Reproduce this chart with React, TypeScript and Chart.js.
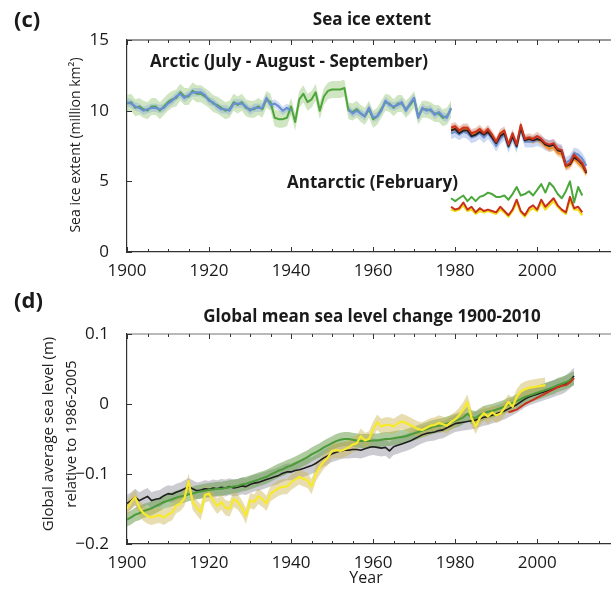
import React, { useEffect, useRef } from "react";
import { Chart, registerables } from "chart.js";
Chart.register(...registerables);

const FONT = "'Open Sans', 'Noto Sans', 'DejaVu Sans', sans-serif";
const W = 611;
const HC = 290;
const HD = 300;

const X_MIN = 1900;
const X_MAX = 2018;
const X_TICKS = [1900, 1920, 1940, 1960, 1980, 2000];
const C_Y_TICKS = [0, 5, 10, 15];
const D_Y_TICKS = [-0.2, -0.1, 0, 0.1];

// ---------- Panel (c): sea ice extent (million km²) ----------
const ARCTIC_START = 1900;
const ARCTIC_BLUE = [
  10.6, 10.5, 10.3, 10.2, 10.0, 10.1, 10.2, 10.2, 10.1, 10.2,
  10.5, 10.7, 11.0, 11.2, 10.9, 11.1, 11.3, 11.3, 11.3, 11.1,
  10.7, 10.6, 10.3, 10.1, 10.1, 10.0, 10.5, 10.5, 10.5, 10.3,
  10.0, 10.2, 10.2, 10.2, 10.9, 10.4, 10.5, 10.3, 10.0, 10.2,
  10.0, null, null, null, null, null, null, null, null, null,
  null, null, null, null, 10.1, 9.8, 10.0, 9.8, 9.6, 10.2,
  9.5, 9.6, 10.0, 10.7, 10.4, 10.3, 10.4, 10.6, 10.0, 10.5,
  10.9, 9.5, 10.2, 10.0, 10.1, 9.7, 9.9, 9.6, 9.5, 10.2,
];
const ARCTIC_GREEN = [
  10.5, 10.6, 10.2, 10.3, 10.1, 10.0, 10.3, 10.3, 10.0, 10.3,
  10.6, 10.8, 10.9, 11.3, 11.0, 11.0, 11.4, 11.2, 11.2, 11.0,
  10.8, 10.5, 10.4, 10.2, 10.0, 10.1, 10.6, 10.4, 10.6, 10.2,
  10.1, 10.1, 10.3, 10.1, 10.8, 10.6, 9.5, 9.4, 9.4, 9.5,
  10.3, 9.2, 10.8, 11.2, 10.6, 10.8, 11.3, 10.0, 11.0, 11.4,
  11.5, 11.5, 11.5, 11.6, 10.0, 9.9, 10.1, 9.8, 9.6, 10.1,
  9.4, 9.6, 10.1, 10.6, 10.5, 10.2, 10.5, 10.5, 10.1, 10.4,
  10.8, 9.6, 10.1, 10.1, 10.0, 9.8, 9.8, 9.5, 9.6, 10.1,
];
const SAT_START = 1979;
const ARCTIC_SAT_BLUE = [
  8.4, 8.5, 8.3, 8.5, 8.4, 8.1, 8.2, 8.4, 8.1, 8.4,
  8.0, 7.5, 8.0, 8.3, 7.4, 8.1, 7.4, 8.7, 7.8, 7.8,
  7.8, 7.9, 7.8, 7.6, 7.5, 7.6, 7.3, 7.2, 6.3, 6.5,
  7.0, 6.9, 6.6, 6.1,
];
const ARCTIC_SAT_BLACK = [
  8.6, 8.7, 8.4, 8.6, 8.6, 8.2, 8.3, 8.5, 8.3, 8.5,
  8.1, 7.7, 8.2, 8.4, 7.5, 8.2, 7.5, 8.8, 7.9, 8.0,
  7.9, 8.0, 7.9, 7.6, 7.5, 7.6, 7.2, 7.1, 6.1, 6.2,
  6.7, 6.5, 6.2, 5.6,
];
const ARCTIC_SAT_ORANGE = [
  8.7, 8.8, 8.5, 8.7, 8.7, 8.3, 8.4, 8.6, 8.4, 8.6,
  8.2, 7.8, 8.3, 8.5, 7.6, 8.3, 7.6, 8.9, 8.0, 8.0,
  7.9, 8.0, 7.8, 7.5, 7.3, 7.4, 7.0, 6.9, 6.0, 6.1,
  6.6, 6.3, 6.0, 5.5,
];
const ARCTIC_SAT_RED = [
  8.8, 8.9, 8.6, 8.8, 8.8, 8.4, 8.5, 8.7, 8.4, 8.7,
  8.3, 7.8, 8.4, 8.6, 7.6, 8.4, 7.6, 9.0, 8.0, 8.1,
  8.0, 8.2, 8.0, 7.7, 7.6, 7.7, 7.3, 7.2, 6.1, 6.3,
  6.9, 6.6, 6.3, 5.7,
];
const ANT_START = 1979;
const ANT_GREEN = [
  3.8, 3.6, 3.8, 4.0, 3.6, 3.9, 3.6, 3.9, 4.0, 4.2,
  4.1, 3.9, 3.9, 4.0, 3.7, 4.1, 4.6, 4.0, 4.1, 4.3,
  4.0, 4.4, 4.8, 4.2, 4.9, 4.6, 4.1, 3.8, 4.3, 5.0,
  3.5, 4.6, 4.0,
];
const ANT_RED = [
  3.2, 3.0, 3.1, 3.5, 3.0, 3.2, 2.8, 3.1, 2.9, 3.0,
  2.9, 2.8, 3.2, 2.9, 2.6, 3.0, 3.7, 2.9, 2.6, 3.1,
  3.3, 3.0, 3.7, 3.2, 3.5, 3.8, 3.3, 3.0, 2.8, 3.9,
  3.1, 3.2, 2.8,
];
const ANT_YELLOW = [
  3.0, 2.9, 3.0, 3.3, 2.9, 3.0, 2.7, 2.9, 2.8, 2.9,
  2.8, 2.7, 3.0, 2.8, 2.5, 2.9, 3.5, 2.8, 2.5, 2.9,
  3.1, 2.9, 3.5, 3.0, 3.3, 3.6, 3.2, 2.9, 2.7, 3.7,
  3.0, 3.0, 2.6,
];
const ARCTIC_GREEN_UNC = 0.6;
const ARCTIC_BLUE_UNC = 0.3;
const SAT_BLUE_UNC = 0.4;
const SAT_RED_UNC = 0.3;
const SAT_ORANGE_UNC = 0.25;

// ---------- Panel (d): global mean sea level (m) ----------
const SL_START = 1900;
const SL_BLACK = [
  -0.142, -0.138, -0.133, -0.138, -0.135, -0.132, -0.138, -0.136, -0.135, -0.131,
  -0.128, -0.129, -0.126, -0.124, -0.121, -0.118, -0.121, -0.124, -0.123, -0.121,
  -0.122, -0.120, -0.121, -0.119, -0.120, -0.118, -0.120, -0.119, -0.117, -0.118,
  -0.115, -0.113, -0.112, -0.110, -0.108, -0.106, -0.104, -0.102, -0.099, -0.097,
  -0.097, -0.095, -0.094, -0.092, -0.090, -0.088, -0.085, -0.081, -0.077, -0.074,
  -0.071, -0.069, -0.067, -0.066, -0.066, -0.065, -0.065, -0.066, -0.064, -0.062,
  -0.061, -0.062, -0.063, -0.062, -0.067, -0.061, -0.059, -0.057, -0.055, -0.053,
  -0.050, -0.047, -0.044, -0.042, -0.041, -0.040, -0.038, -0.037, -0.034, -0.031,
  -0.028, -0.027, -0.026, -0.025, -0.024, -0.023, -0.021, -0.019, -0.018, -0.016,
  -0.014, -0.012, -0.010, -0.007, -0.004, -0.001, 0.003, 0.007, 0.010, 0.012,
  0.014, 0.016, 0.018, 0.020, 0.022, 0.024, 0.026, 0.029, 0.034, 0.040,
];
const SL_GREEN = [
  -0.165, -0.162, -0.158, -0.156, -0.153, -0.151, -0.149, -0.146, -0.143, -0.140,
  -0.138, -0.136, -0.134, -0.132, -0.131, -0.129, -0.128, -0.126, -0.125, -0.124,
  -0.123, -0.122, -0.121, -0.121, -0.120, -0.119, -0.118, -0.117, -0.115, -0.114,
  -0.112, -0.110, -0.108, -0.106, -0.104, -0.101, -0.098, -0.095, -0.093, -0.090,
  -0.088, -0.085, -0.082, -0.079, -0.076, -0.072, -0.069, -0.066, -0.062, -0.059,
  -0.056, -0.053, -0.051, -0.050, -0.050, -0.051, -0.052, -0.053, -0.053, -0.053,
  -0.052, -0.052, -0.051, -0.050, -0.050, -0.049, -0.048, -0.047, -0.046, -0.044,
  -0.042, -0.040, -0.038, -0.036, -0.034, -0.032, -0.031, -0.030, -0.028, -0.026,
  -0.024, -0.022, -0.019, -0.014, -0.019, -0.020, -0.016, -0.013, -0.011, -0.010,
  -0.008, -0.006, -0.004, -0.001, 0.001, 0.004, 0.007, 0.010, 0.012, 0.014,
  0.016, 0.018, 0.020, 0.022, 0.024, 0.027, 0.029, 0.031, 0.034, 0.037,
];
const SL_YELLOW = [
  -0.150, -0.140, -0.133, -0.148, -0.156, -0.160, -0.162, -0.160, -0.159, -0.162,
  -0.158, -0.155, -0.145, -0.142, -0.135, -0.110, -0.140, -0.148, -0.155, -0.130,
  -0.128, -0.138, -0.146, -0.140, -0.148, -0.150, -0.136, -0.140, -0.148, -0.160,
  -0.138, -0.140, -0.132, -0.136, -0.142, -0.128, -0.124, -0.120, -0.118, -0.118,
  -0.112, -0.108, -0.104, -0.107, -0.109, -0.118, -0.100, -0.090, -0.082, -0.076,
  -0.067, -0.066, -0.067, -0.065, -0.062, -0.058, -0.056, -0.046, -0.052, -0.050,
  -0.036, -0.026, -0.032, -0.030, -0.030, -0.032, -0.028, -0.025, -0.027, -0.030,
  -0.033, -0.036, -0.037, -0.034, -0.031, -0.030, -0.027, -0.029, -0.031, -0.026,
  -0.022, -0.016, -0.008, 0.003, -0.020, -0.032, -0.020, -0.013, -0.018, -0.012,
  -0.016, -0.014, -0.006, 0.003, -0.004, 0.010, 0.018, 0.021, 0.023, 0.024,
  0.025, 0.026, 0.027,
];
const SL_RED_START = 1993;
const SL_RED = [
  -0.012, -0.010, -0.008, -0.004, 0.000, 0.003, 0.006, 0.009, 0.012, 0.015,
  0.018, 0.021, 0.024, 0.026, 0.027, 0.031, 0.037,
];
const SL_BLACK_UNC = 0.012;
const SL_GREEN_UNC = 0.01;
const SL_YELLOW_UNC = 0.011;

// ---------- helpers ----------
const pts = (start: number, arr: (number | null)[], off = 0) =>
  arr.map((v, i) => ({ x: start + i, y: v === null ? null : v + off }));

const line = (data: any[], color: string, width: number, order: number) => ({
  data,
  borderColor: color,
  borderWidth: width,
  pointRadius: 0,
  fill: false,
  tension: 0,
  borderJoinStyle: "round",
  order,
});

const band = (start: number, arr: (number | null)[], unc: number, color: string, order: number) => [
  { data: pts(start, arr, unc), borderWidth: 0, borderColor: "transparent", pointRadius: 0, backgroundColor: color, fill: "+1", tension: 0, order },
  { data: pts(start, arr, -unc), borderWidth: 0, borderColor: "transparent", pointRadius: 0, fill: false, tension: 0, order },
];

type Txt = { t: string; x: number; y: number; font: string; align?: CanvasTextAlign; rot?: boolean };

const decor = (texts: Txt[], yTicks: number[], topColor: string) => ({
  id: "decor",
  afterDraw(chart: any) {
    const { ctx, chartArea: a, scales } = chart;
    const xs = scales.x;
    const ys = scales.y;
    ctx.save();
    ctx.strokeStyle = topColor;
    ctx.lineWidth = 1.2;
    ctx.beginPath();
    ctx.moveTo(a.left, a.top);
    ctx.lineTo(a.right, a.top);
    ctx.stroke();
    ctx.strokeStyle = "#333";
    ctx.lineWidth = 1;
    for (let yr = X_MIN; yr <= X_MAX; yr += 5) {
      const px = Math.round(xs.getPixelForValue(yr)) + 0.5;
      const len = yr % 20 === 0 ? 5 : 3;
      ctx.beginPath();
      ctx.moveTo(px, a.bottom);
      ctx.lineTo(px, a.bottom - len);
      ctx.moveTo(px, a.top);
      ctx.lineTo(px, a.top + len);
      ctx.stroke();
    }
    for (const v of yTicks) {
      const py = Math.round(ys.getPixelForValue(v)) + 0.5;
      ctx.beginPath();
      ctx.moveTo(a.left, py);
      ctx.lineTo(a.left + 5, py);
      ctx.stroke();
    }
    ctx.fillStyle = "#1a1a1a";
    ctx.textBaseline = "middle";
    for (const tx of texts) {
      ctx.save();
      ctx.font = tx.font;
      ctx.textAlign = tx.align || "center";
      ctx.translate(tx.x, tx.y);
      if (tx.rot) ctx.rotate(-Math.PI / 2);
      ctx.fillText(tx.t, 0, 0);
      ctx.restore();
    }
    ctx.restore();
  },
});

const makeScales = (ymin: number, ymax: number, yTicks: number[], fmt: (v: number) => string, xH: number) => ({
  x: {
    type: "linear",
    min: X_MIN,
    max: X_MAX,
    afterBuildTicks: (s: any) => {
      s.ticks = X_TICKS.map((v) => ({ value: v }));
    },
    afterFit: (s: any) => {
      s.height = xH;
    },
    grid: { display: false },
    border: { display: true, color: "#333", width: 1.2 },
    ticks: {
      autoSkip: false,
      maxRotation: 0,
      padding: 1,
      color: "#1a1a1a",
      font: { family: FONT, size: 17 },
      callback: (v: any) => String(v),
    },
  },
  y: {
    type: "linear",
    min: ymin,
    max: ymax,
    afterBuildTicks: (s: any) => {
      s.ticks = yTicks.map((v) => ({ value: v }));
    },
    afterFit: (s: any) => {
      s.width = 127;
    },
    grid: { display: false },
    border: { display: true, color: "#333", width: 1.2 },
    ticks: {
      padding: 10,
      color: "#1a1a1a",
      font: { family: FONT, size: 17 },
      callback: (v: any) => fmt(Number(v)),
    },
  },
});

const baseOptions = (top: number, scales: any) => ({
  responsive: false,
  animation: false,
  layout: { padding: { top, left: 0, right: 0, bottom: 0 } },
  plugins: { legend: { display: false }, tooltip: { enabled: false } },
  elements: { point: { radius: 0 }, line: { tension: 0 } },
  scales,
});

const BOLD = (s: number) => `bold ${s}px ${FONT}`;
const REG = (s: number) => `${s}px ${FONT}`;

export default function App() {
  const cRef = useRef<HTMLCanvasElement>(null);
  const dRef = useRef<HTMLCanvasElement>(null);

  useEffect(() => {
    document.body.style.margin = "0";
    const cDatasets: any[] = [
      ...band(ARCTIC_START, ARCTIC_GREEN, ARCTIC_GREEN_UNC, "rgba(150,200,120,0.45)", 20),
      ...band(ARCTIC_START, ARCTIC_BLUE, ARCTIC_BLUE_UNC, "rgba(130,160,225,0.35)", 19),
      ...band(SAT_START, ARCTIC_SAT_BLUE, SAT_BLUE_UNC, "rgba(130,160,225,0.4)", 18),
      ...band(SAT_START, ARCTIC_SAT_ORANGE, SAT_ORANGE_UNC, "rgba(240,150,60,0.4)", 17),
      ...band(SAT_START, ARCTIC_SAT_RED, SAT_RED_UNC, "rgba(190,80,60,0.3)", 16),
      line(pts(ARCTIC_START, ARCTIC_GREEN), "#4da53c", 2, 11),
      line(pts(ARCTIC_START, ARCTIC_BLUE), "#6a8fd2", 2.2, 10),
      line(pts(SAT_START, ARCTIC_SAT_BLUE), "#6a8fd2", 2, 9),
      line(pts(SAT_START, ARCTIC_SAT_ORANGE), "#f08a24", 2, 8),
      line(pts(SAT_START, ARCTIC_SAT_BLACK), "#2a2020", 2, 7),
      line(pts(SAT_START, ARCTIC_SAT_RED), "#d0301c", 2, 6),
      line(pts(ANT_START, ANT_YELLOW), "#f2de1a", 2.2, 3),
      line(pts(ANT_START, ANT_RED), "#c8301c", 2, 2),
      line(pts(ANT_START, ANT_GREEN), "#4aa83a", 2, 1),
    ];
    const cTexts: Txt[] = [
      { t: "(c)", x: 14, y: 21, font: BOLD(22), align: "left" },
      { t: "Sea ice extent", x: 372, y: 20, font: BOLD(17) },
      { t: "Arctic (July - August - September)", x: 150, y: 62, font: BOLD(17), align: "left" },
      { t: "Antarctic (February)", x: 287, y: 183, font: BOLD(17), align: "left" },
      { t: "Sea ice extent (million km²)", x: 76, y: 145, font: REG(14), rot: true },
    ];
    const cChart = new Chart(cRef.current as HTMLCanvasElement, {
      type: "line",
      data: { datasets: cDatasets },
      options: baseOptions(40, makeScales(0, 15, C_Y_TICKS, (v) => String(v), HC - 252)) as any,
      plugins: [decor(cTexts, C_Y_TICKS, "#333") as any],
    });

    const dDatasets: any[] = [
      ...band(SL_START, SL_BLACK, SL_BLACK_UNC, "rgba(160,160,172,0.55)", 20),
      ...band(SL_START, SL_GREEN, SL_GREEN_UNC, "rgba(110,160,80,0.55)", 19),
      ...band(SL_START, SL_YELLOW, SL_YELLOW_UNC, "rgba(205,180,80,0.45)", 18),
      line(pts(SL_START, SL_BLACK), "#1e1e1e", 1.6, 4),
      line(pts(SL_START, SL_GREEN), "#4c9a3a", 2, 3),
      line(pts(SL_START, SL_YELLOW), "#f7ea2c", 2.2, 2),
      line(pts(SL_RED_START, SL_RED), "#c8321e", 2, 1),
    ];
    const fmtD = (v: number) => (Math.abs(v) < 1e-9 ? "0" : (v < 0 ? "\u2212" : "") + Math.abs(v).toFixed(1));
    const dTexts: Txt[] = [
      { t: "(d)", x: 14, y: 12, font: BOLD(22), align: "left" },
      { t: "Global mean sea level change 1900-2010", x: 372, y: 27, font: BOLD(17) },
      { t: "Global average sea level (m)", x: 49, y: 144, font: REG(15), rot: true },
      { t: "relative to 1986-2005", x: 72, y: 144, font: REG(15), rot: true },
      { t: "Year", x: 366, y: 288, font: REG(16) },
    ];
    const dChart = new Chart(dRef.current as HTMLCanvasElement, {
      type: "line",
      data: { datasets: dDatasets },
      options: baseOptions(44, makeScales(-0.2, 0.1, D_Y_TICKS, fmtD, HD - 254)) as any,
      plugins: [decor(dTexts, D_Y_TICKS, "#777") as any],
    });
    return () => {
      cChart.destroy();
      dChart.destroy();
    };
  }, []);

  return (
    <div style={{ position: "relative", width: W, height: HC + HD, background: "#fff" }}>
      <canvas ref={cRef} width={W} height={HC} style={{ position: "absolute", left: 0, top: 0, display: "block" }} />
      <canvas ref={dRef} width={W} height={HD} style={{ position: "absolute", left: 0, top: HC, display: "block" }} />
    </div>
  );
}
